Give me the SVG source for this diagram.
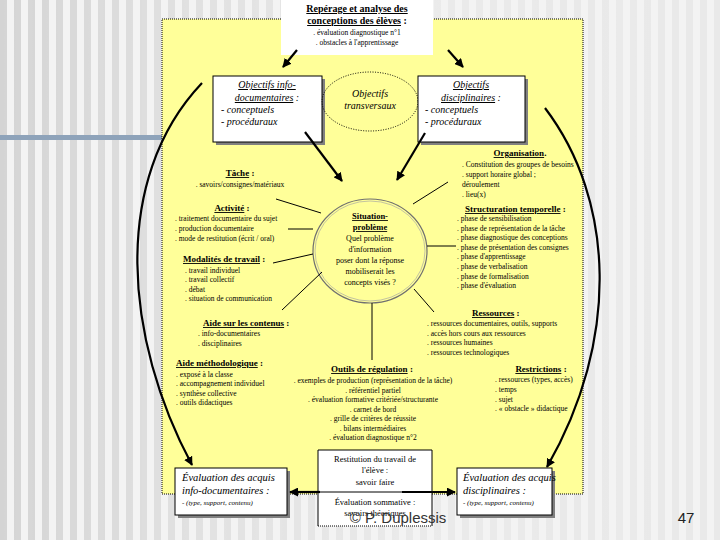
<svg xmlns="http://www.w3.org/2000/svg" width="720" height="540" viewBox="0 0 720 540">
<defs>
<pattern id="stripes" width="14" height="10" patternUnits="userSpaceOnUse">
<rect x="0" y="0" width="7" height="10" fill="#d4d4d4"/>
</pattern>
<linearGradient id="fade" x1="0" y1="0" x2="1" y2="0">
<stop offset="0" stop-color="#fff"/>
<stop offset="0.25" stop-color="#999"/>
<stop offset="0.6" stop-color="#444"/>
<stop offset="1" stop-color="#555"/>
</linearGradient>
<mask id="fm"><rect width="720" height="540" fill="url(#fade)"/></mask>
<marker id="ah" viewBox="0 0 10 10" refX="9" refY="5" markerWidth="9" markerHeight="9" markerUnits="userSpaceOnUse" orient="auto">
<path d="M0,0 L10,5 L0,10 z" fill="#000"/>
</marker>
<style>
text{font-family:"Liberation Serif","Times New Roman",serif;fill:#000}
.h{font-size:9px;font-weight:bold}
.u{text-decoration:underline}
.i{font-size:7.5px}
.it{font-style:italic;font-size:10px}
.sm{font-style:italic;font-size:7px}
.c{text-anchor:middle}
.box{fill:#fff;stroke:#000;stroke-width:1}
.sh{fill:#808080}
.thick{stroke:#000;stroke-width:2.2;fill:none}
.thin{stroke:#000;stroke-width:1;fill:none}
</style>
</defs>
<rect width="720" height="540" fill="#f3f3f3"/>
<rect width="720" height="540" fill="url(#stripes)" mask="url(#fm)"/>
<rect x="0" y="135" width="163" height="5" fill="#8ea3ba"/>
<rect x="162" y="19" width="421" height="475" fill="#ffff99" stroke="#000" stroke-width="1" stroke-dasharray="1,1"/>

<g id="top-box">
<rect x="281" y="0" width="152" height="55" fill="#fff"/>
<text x="357" y="12" class="c" style="font-size:10px;font-weight:bold;text-decoration:underline">Repérage et analyse des</text>
<text x="357" y="24" class="c" style="font-size:10px;font-weight:bold"><tspan class="u">conceptions des élèves</tspan> :</text>
<text x="357" y="35" class="c i">. évaluation diagnostique n°1</text>
<text x="357" y="45" class="c i">. obstacles à l'apprentissage</text>
</g>

<g id="obj-info">
<rect x="216" y="79" width="109" height="66" class="sh"/>
<rect x="213" y="76" width="109" height="66" class="box"/>
<text x="267" y="88" class="c it u">Objectifs info-</text>
<text x="267" y="101" class="c it"><tspan class="u">documentaires</tspan> :</text>
<text x="221" y="113" class="it">- conceptuels</text>
<text x="221" y="125" class="it">- procéduraux</text>
</g>

<g id="obj-transv">
<ellipse cx="370" cy="101.5" rx="48" ry="29.5" fill="none" stroke="#000" stroke-width="1" stroke-dasharray="1,1.5"/>
<text x="370" y="97" class="c it">Objectifs</text>
<text x="370" y="109" class="c it">transversaux</text>
</g>

<g id="obj-disc">
<rect x="421" y="79" width="107" height="66" class="sh"/>
<rect x="418" y="76" width="107" height="66" class="box"/>
<text x="471" y="88" class="c it u">Objectifs</text>
<text x="471" y="101" class="c it"><tspan class="u">disciplinaires</tspan> :</text>
<text x="425" y="113" class="it">- conceptuels</text>
<text x="425" y="125" class="it">- procéduraux</text>
</g>

<g id="situation">
<ellipse cx="370" cy="251" rx="57" ry="52" fill="#ffff99" stroke="#707070" stroke-width="1.2"/>
<ellipse cx="370" cy="251" rx="55" ry="50" fill="none" stroke="#c4c4a0" stroke-width="1"/>
<text x="370" y="219" class="c h u" style="font-size:8.5px">Situation-</text>
<text x="370" y="230" class="c h u" style="font-size:8.5px">problème</text>
<text x="370" y="241" class="c" style="font-size:8px">Quel problème</text>
<text x="370" y="252" class="c" style="font-size:8px">d'information</text>
<text x="370" y="263" class="c" style="font-size:8px">poser dont la réponse</text>
<text x="370" y="274" class="c" style="font-size:8px">mobiliserait les</text>
<text x="370" y="285" class="c" style="font-size:8px">concepts visés ?</text>
</g>

<g id="organisation">
<text x="520" y="156" class="c h"><tspan class="u">Organisation</tspan>.</text>
<text x="462" y="167" class="i">. Constitution des groupes de besoins</text>
<text x="462" y="177" class="i">. support horaire global ;</text>
<text x="462" y="187" class="i">déroulement</text>
<text x="462" y="197" class="i">. lieu(x)</text>
</g>

<g id="tache">
<text x="240" y="176" class="c h"><tspan class="u">Tâche</tspan> :</text>
<text x="240" y="187" class="c i">. savoirs/consignes/matériaux</text>
</g>

<g id="activite">
<text x="232" y="211" class="c h"><tspan class="u">Activité</tspan> :</text>
<text x="175" y="221" class="i">. traitement documentaire du sujet</text>
<text x="175" y="231" class="i">. production documentaire</text>
<text x="175" y="241" class="i">. mode de restitution (écrit / oral)</text>
</g>

<g id="modalites">
<text x="183" y="262" class="h"><tspan class="u">Modalités de travail</tspan> :</text>
<text x="185" y="273" class="i">. travail individuel</text>
<text x="185" y="282" class="i">. travail collectif</text>
<text x="185" y="292" class="i">. débat</text>
<text x="185" y="301" class="i">. situation de communication</text>
</g>

<g id="structuration">
<text x="465" y="212" class="h"><tspan class="u">Structuration temporelle</tspan> :</text>
<text x="457" y="221" class="i">. phase de sensibilisation</text>
<text x="457" y="231" class="i">. phase de représentation de la tâche</text>
<text x="457" y="240" class="i">. phase diagnostique des conceptions</text>
<text x="457" y="250" class="i">. phase de présentation des consignes</text>
<text x="457" y="259" class="i">. phase d'apprentissage</text>
<text x="457" y="269" class="i">. phase de verbalisation</text>
<text x="457" y="279" class="i">. phase de formalisation</text>
<text x="457" y="288" class="i">. phase d'évaluation</text>
</g>

<g id="aide-contenus">
<text x="203" y="326" class="h"><tspan class="u">Aide sur les contenus</tspan> :</text>
<text x="198" y="336" class="i">. info-documentaires</text>
<text x="198" y="346" class="i">. disciplinaires</text>
</g>

<g id="ressources">
<text x="472" y="316" class="h"><tspan class="u">Ressources</tspan> :</text>
<text x="427" y="326" class="i">. ressources documentaires, outils, supports</text>
<text x="427" y="336" class="i">. accès hors cours aux ressources</text>
<text x="427" y="345" class="i">. ressources humaines</text>
<text x="427" y="355" class="i">. ressources technologiques</text>
</g>

<g id="aide-methodo">
<text x="176" y="366" class="h"><tspan class="u">Aide méthodologique</tspan> :</text>
<text x="176" y="377" class="i">. exposé à la classe</text>
<text x="176" y="386" class="i">. accompagnement individuel</text>
<text x="176" y="396" class="i">. synthèse collective</text>
<text x="176" y="405" class="i">. outils didactiques</text>
</g>

<g id="outils">
<text x="372" y="372" class="c h"><tspan class="u">Outils de régulation</tspan> :</text>
<text x="373" y="383" class="c i">. exemples de production (représentation de la tâche)</text>
<text x="373" y="393" class="c i">. référentiel partiel</text>
<text x="373" y="402" class="c i">. évaluation formative critériée/structurante</text>
<text x="373" y="412" class="c i">. carnet de bord</text>
<text x="373" y="421" class="c i">. grille de critères de réussite</text>
<text x="373" y="431" class="c i">. bilans intermédiaires</text>
<text x="373" y="440" class="c i">. évaluation diagnostique n°2</text>
</g>

<g id="restrictions">
<text x="541" y="372" class="c h"><tspan class="u">Restrictions</tspan> :</text>
<text x="495" y="382" class="i">. ressources (types, accès)</text>
<text x="495" y="392" class="i">. temps</text>
<text x="495" y="402" class="i">. sujet</text>
<text x="495" y="411" class="i">. « obstacle » didactique</text>
</g>

<g id="restitution">
<rect x="318" y="450" width="114" height="76" fill="#fff"/>
<path d="M318,526 V450 H432 V526" fill="none" stroke="#000" stroke-width="1"/>
<line x1="318" y1="526" x2="432" y2="526" stroke="#000" stroke-width="1" stroke-dasharray="1,1"/>
<line x1="318" y1="492" x2="432" y2="492" stroke="#000" stroke-width="1"/>
<text x="375" y="462" class="c" style="font-size:8.5px">Restitution du travail de</text>
<text x="375" y="473" class="c" style="font-size:8.5px">l'élève :</text>
<text x="375" y="485" class="c" style="font-size:8.5px">savoir faire</text>
<text x="375" y="505" class="c" style="font-size:8.5px">Évaluation sommative :</text>
<text x="375" y="516" class="c" style="font-size:8.5px">savoirs théoriques</text>
</g>

<g id="eval-info">
<rect x="178" y="471" width="112" height="47" class="sh"/>
<rect x="175" y="468" width="112" height="47" class="box"/>
<text x="182" y="481" class="it" style="font-size:10.5px">Évaluation des acquis</text>
<text x="182" y="494" class="it" style="font-size:10.5px">info-documentaires :</text>
<text x="182" y="505" class="sm">- (type, support, contenu)</text>
</g>

<g id="eval-disc">
<rect x="460" y="471" width="95" height="47" class="sh"/>
<rect x="457" y="468" width="95" height="47" class="box"/>
<text x="463" y="481" class="it" style="font-size:10.5px">Évaluation des acquis</text>
<text x="463" y="494" class="it" style="font-size:10.5px">disciplinaires :</text>
<text x="463" y="505" class="sm">- (type, support, contenu)</text>
</g>

<g id="connectors">
<path class="thick" d="M297,50 L283,67" marker-end="url(#ah)"/>
<path class="thick" d="M448,50 L463,67" marker-end="url(#ah)"/>
<path class="thick" d="M305,132 L342,181" marker-end="url(#ah)"/>
<path class="thick" d="M425,133 L397,180" marker-end="url(#ah)"/>
<path class="thick" d="M202,83 C110,180 125,340 192,465" marker-end="url(#ah)"/>
<path class="thick" d="M545,108 C615,200 620,340 547,467" marker-end="url(#ah)"/>
<path class="thick" d="M320,492 L290,492" marker-end="url(#ah)"/>
<path class="thick" d="M402,492 L455,492" marker-end="url(#ah)"/>
<path class="thin" d="M276,199 L321,213"/>
<path class="thin" d="M288,229 L313,229"/>
<path class="thin" d="M273,263 L313,254"/>
<path class="thin" d="M282,310 L322,272"/>
<path class="thin" d="M413,204 L448,182"/>
<path class="thin" d="M427,246 L456,246"/>
<path class="thin" d="M414,289 L434,312"/>
<path class="thin" d="M372,303 L372,360"/>
</g>

<text x="398" y="523" class="c" style="font-family:'Liberation Sans',Arial,sans-serif;font-size:15px;fill:#333">© P. Duplessis</text>
<text x="686" y="523" class="c" style="font-family:'Liberation Sans',Arial,sans-serif;font-size:15px;fill:#222">47</text>
</svg>
